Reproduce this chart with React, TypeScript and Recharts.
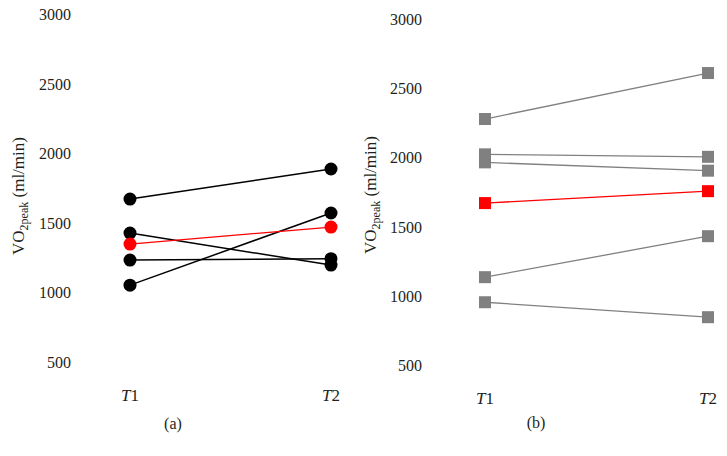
import { LineChart, Line, XAxis, YAxis, Label } from "recharts";

const TIMEPOINTS = ["T1", "T2"];
const Y_TICKS = [500, 1000, 1500, 2000, 2500, 3000];

// panel (a): individual subjects + mean (red)
const A_SUBJECTS = [
  [1678, 1894],
  [1434, 1204],
  [1240, 1250],
  [1060, 1578],
];
const A_MEAN = [1355, 1477];

// panel (b)
const B_SUBJECTS = [
  [2285, 2617],
  [2030, 2012],
  [1972, 1912],
  [1143, 1439],
  [962, 854],
];
const B_MEAN = [1678, 1764];

const FONT = '"Liberation Serif", "Times New Roman", serif';
const TEXT_COLOR = "#231f20";
const GREY = "#808080";
const RED = "#ff0000";

function buildRows(subjects: number[][], mean: number[]) {
  return TIMEPOINTS.map((t, i) => {
    const row: Record<string, string | number> = { t, mean: mean[i] };
    subjects.forEach((s, k) => (row[`s${k}`] = s[i]));
    return row;
  });
}

const rowsA = buildRows(A_SUBJECTS, A_MEAN);
const rowsB = buildRows(B_SUBJECTS, B_MEAN);

const TimeTick = (props: any) => {
  const { x, y, payload } = props;
  const v = String(payload.value);
  return (
    <text x={x} y={y} dy={17} textAnchor="middle" fill={TEXT_COLOR} fontSize={17} style={{ fontFamily: FONT }}>
      <tspan fontStyle="italic">{v.slice(0, 1)}</tspan>
      <tspan>{v.slice(1)}</tspan>
    </text>
  );
};

const ValueTick = (props: any) => {
  const { x, y, payload } = props;
  return (
    <text x={x} y={y} dy={5} textAnchor="end" fill={TEXT_COLOR} fontSize={16} style={{ fontFamily: FONT }}>
      {payload.value}
    </text>
  );
};

const yTitle = (cx: number, cy: number) => () => (
  <text
    x={cx}
    y={cy}
    transform={`rotate(-90, ${cx}, ${cy})`}
    textAnchor="middle"
    fill={TEXT_COLOR}
    fontSize={17}
    style={{ fontFamily: FONT }}
  >
    VO<tspan dy={4} fontSize={12}>2peak</tspan>
    <tspan dy={-4}> (ml/min)</tspan>
  </text>
);

const squareDot = (color: string) => (p: any) => (
  <rect
    key={`${p.dataKey}-${p.index}`}
    x={p.cx - 6}
    y={p.cy - 6}
    width={12}
    height={12}
    fill={color}
  />
);

const caption = (left: number, top: number, text: string) => (
  <div
    style={{
      position: "absolute",
      left: left - 20,
      top: top - 10,
      width: 40,
      textAlign: "center",
      fontFamily: FONT,
      fontSize: 16,
      lineHeight: "20px",
      color: TEXT_COLOR,
    }}
  >
    {text}
  </div>
);

export default function App() {
  return (
    <div style={{ position: "absolute", left: 0, top: 0, width: 727, height: 456, background: "#fff", fontFamily: FONT }}>
      <div style={{ position: "absolute", left: 0, top: 0 }}>
        <LineChart width={360} height={456} data={rowsA} margin={{ top: 15, right: 10, bottom: 42, left: 0 }}>
          <XAxis
            dataKey="t"
            axisLine={false}
            tickLine={false}
            tickSize={0}
            tickMargin={0}
            height={30}
            padding={{ left: 50, right: 19 }}
            tick={<TimeTick />}
          />
          <YAxis
            domain={[350, 3000]}
            ticks={Y_TICKS}
            axisLine={false}
            tickLine={false}
            tickSize={0}
            tickMargin={9}
            width={80}
            tick={<ValueTick />}
          >
            <Label content={yTitle(24, 196)} />
          </YAxis>
          {A_SUBJECTS.map((_, k) => (
            <Line
              key={k}
              type="linear"
              dataKey={`s${k}`}
              stroke="#000"
              strokeWidth={1.5}
              dot={{ r: 6.5, fill: "#000", stroke: "none" }}
              activeDot={false}
              isAnimationActive={false}
            />
          ))}
          <Line
            type="linear"
            dataKey="mean"
            stroke={RED}
            strokeWidth={1.3}
            dot={{ r: 6.5, fill: RED, stroke: "none" }}
            activeDot={false}
            isAnimationActive={false}
          />
        </LineChart>
        {caption(173, 424, "(a)")}
      </div>
      <div style={{ position: "absolute", left: 360, top: 0, width: 367, height: 456 }}>
        <LineChart width={367} height={456} data={rowsB} margin={{ top: 20, right: 10, bottom: 39, left: 0 }}>
          <XAxis
            dataKey="t"
            axisLine={false}
            tickLine={false}
            tickSize={0}
            tickMargin={0}
            height={30}
            padding={{ left: 55, right: 9 }}
            tick={<TimeTick />}
          />
          <YAxis
            domain={[350, 3000]}
            ticks={Y_TICKS}
            axisLine={false}
            tickLine={false}
            tickSize={0}
            tickMargin={8}
            width={70}
            tick={<ValueTick />}
          >
            <Label content={yTitle(16, 195)} />
          </YAxis>
          {B_SUBJECTS.map((_, k) => (
            <Line
              key={k}
              type="linear"
              dataKey={`s${k}`}
              stroke={GREY}
              strokeWidth={1.3}
              dot={squareDot(GREY)}
              activeDot={false}
              isAnimationActive={false}
            />
          ))}
          <Line
            type="linear"
            dataKey="mean"
            stroke={RED}
            strokeWidth={1.3}
            dot={squareDot(RED)}
            activeDot={false}
            isAnimationActive={false}
          />
        </LineChart>
        {caption(176, 423, "(b)")}
      </div>
    </div>
  );
}
